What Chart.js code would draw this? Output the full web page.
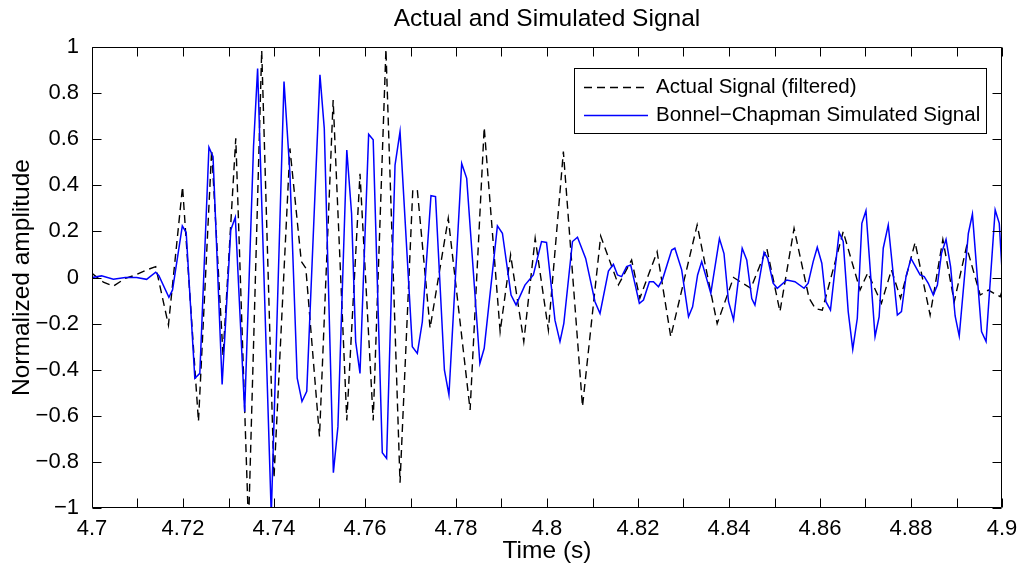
<!DOCTYPE html>
<html><head><meta charset="utf-8">
<script src="https://cdn.jsdelivr.net/npm/chart.js@4/dist/chart.umd.min.js"></script>
<style>html,body{margin:0;padding:0;background:#fff;overflow:hidden}#wrap{width:1021px;height:568px}</style>
</head><body><div id="wrap"><canvas id="c" width="1021" height="568"></canvas></div>
<script>
// ---- data ----
const seriesNames = ['Actual Signal (filtered)', 'Bonnel\u2212Chapman Simulated Signal'];

const actualT = [
  4.7000, 4.7025, 4.7047, 4.7073, 4.7095, 4.7120, 4.7140, 4.7168, 4.7199, 4.7234,
  4.7263, 4.7288, 4.7316, 4.7344, 4.7373, 4.7400, 4.7435, 4.7460, 4.7470, 4.7500,
  4.7530, 4.7560, 4.7589, 4.7618, 4.7646, 4.7677, 4.7705, 4.7715, 4.7743, 4.7783,
  4.7831, 4.7862, 4.7897, 4.7920, 4.7949, 4.7974, 4.8003, 4.8036, 4.8078, 4.8118,
  4.8157, 4.8186, 4.8204, 4.8242, 4.8272, 4.8330, 4.8374, 4.8410, 4.8448, 4.8483,
  4.8512, 4.8543, 4.8576, 4.8590, 4.8605, 4.8651, 4.8688, 4.8705, 4.8735, 4.8757,
  4.8777, 4.8809, 4.8842, 4.8870, 4.8895, 4.8922, 4.8952, 4.8970, 4.8996, 4.9000
];
const actualY = [
  0.018, -0.020, -0.037, -0.004, 0.010, 0.033, 0.047, -0.206, 0.394, -0.625,
  0.553, -0.340, 0.604, -1.080, 0.985, -0.870, 0.560, 0.070, 0.040, -0.690,
  0.770, -0.620, 0.450, -0.620, 0.990, -0.890, 0.380, 0.380, -0.220, 0.257,
  -0.575, 0.651, -0.235, 0.098, -0.278, 0.170, -0.228, 0.546, -0.560, 0.180,
  -0.032, 0.076, -0.090, 0.112, -0.257, 0.228, -0.200, 0.000, -0.047, 0.127,
  -0.148, 0.213, -0.090, -0.135, -0.142, 0.199, -0.054, 0.020, -0.112, 0.033,
  -0.090, 0.152, -0.163, 0.165, -0.105, 0.134, -0.076, -0.055, -0.083, -0.060
];

const simT = [
  4.70000, 4.70210, 4.70470, 4.70730, 4.70980, 4.71200, 4.71400, 4.71470, 4.71690, 4.71770,
  4.71985, 4.72070, 4.72260, 4.72370, 4.72570, 4.72660, 4.72860, 4.73050, 4.73150, 4.73355,
  4.73550, 4.73640, 4.73940, 4.74220, 4.74350, 4.74510, 4.74615, 4.74720, 4.75010, 4.75105,
  4.75305, 4.75405, 4.75600, 4.75705, 4.75795, 4.75890, 4.76080, 4.76180, 4.76380, 4.76475,
  4.76660, 4.76770, 4.77040, 4.77150, 4.77260, 4.77450, 4.77550, 4.77745, 4.77845, 4.78125,
  4.78235, 4.78525, 4.78620, 4.78910, 4.79020, 4.79210, 4.79320, 4.79515, 4.79700, 4.79880,
  4.79990, 4.80175, 4.80285, 4.80370, 4.80560, 4.80670, 4.80850, 4.81055, 4.81165, 4.81350,
  4.81460, 4.81550, 4.81640, 4.81750, 4.81840, 4.82030, 4.82120, 4.82250, 4.82340, 4.82450,
  4.82540, 4.82740, 4.82810, 4.82960, 4.83110, 4.83200, 4.83310, 4.83400, 4.83600, 4.83790,
  4.83890, 4.83990, 4.84100, 4.84290, 4.84390, 4.84500, 4.84570, 4.84770, 4.84850, 4.84970,
  4.85060, 4.85270, 4.85450, 4.85650, 4.85740, 4.85850, 4.85940, 4.86040, 4.86130, 4.86230,
  4.86420, 4.86510, 4.86620, 4.86720, 4.86820, 4.86920, 4.87010, 4.87210, 4.87300, 4.87390,
  4.87500, 4.87700, 4.87790, 4.87890, 4.88000, 4.88200, 4.88290, 4.88380, 4.88490, 4.88580,
  4.88670, 4.88770, 4.88870, 4.88970, 4.89060, 4.89260, 4.89350, 4.89550, 4.89650, 4.89850,
  4.89940, 4.90000
];
const simY = [
  0.000, 0.007, -0.008, 0.000, 0.000, -0.008, 0.023, 0.008, -0.086, -0.054,
  0.224, 0.195, -0.437, -0.416, 0.565, 0.524, -0.464, 0.206, 0.261, -0.582,
  0.568, 0.907, -1.030, 0.850, 0.452, -0.437, -0.538, -0.494, 0.879, 0.647,
  -0.847, -0.647, 0.553, 0.278, -0.278, -0.416, 0.621, 0.597, -0.760, -0.785,
  0.488, 0.633, -0.300, -0.329, -0.192, 0.355, 0.351, -0.401, -0.509, 0.495,
  0.430, -0.373, -0.307, 0.224, 0.192, -0.076, -0.119, -0.033, 0.011, 0.156,
  0.152, -0.185, -0.278, -0.199, 0.156, 0.175, 0.083, -0.105, -0.156, 0.028,
  0.057, 0.011, 0.004, 0.047, 0.054, -0.112, -0.098, -0.018, -0.018, -0.040,
  -0.008, 0.119, 0.127, 0.033, -0.170, -0.127, 0.011, 0.069, -0.069, 0.169,
  0.104, -0.105, -0.184, 0.127, 0.076, -0.091, -0.120, 0.109, 0.083, -0.025,
  -0.047, -0.011, -0.018, -0.047, -0.025, 0.069, 0.131, 0.062, -0.105, -0.141,
  0.195, 0.156, -0.148, -0.312, -0.177, 0.235, 0.290, -0.256, -0.170, 0.127,
  0.228, -0.163, -0.148, 0.004, 0.083, 0.011, 0.004, -0.025, -0.076, -0.033,
  0.105, 0.165, 0.047, -0.167, -0.254, 0.191, 0.275, -0.235, -0.278, 0.293,
  0.235, 0.033
];

const xTickLabels = ['4.7','4.72','4.74','4.76','4.78','4.8','4.82','4.84','4.86','4.88','4.9'];
const yTickLabels = ['\u22121','\u22120.8','\u22120.6','\u22120.4','\u22120.2','0','0.2','0.4','0.6','0.8','1'];

// ---- chart ----
const FONT = "'Liberation Sans', Arial, Helvetica, sans-serif";
const seriesStyle = [
  {color: '#000000', width: 1.4, dash: [8, 5]},
  {color: '#0000ff', width: 1.5, dash: []}
];

const matlabBox = {
  id: 'matlabBox',
  afterDraw(chart) {
    const {ctx, chartArea: a, scales: {x, y}} = chart;
    ctx.save();
    ctx.strokeStyle = '#000';
    ctx.lineWidth = 1;
    const L = Math.round(a.left) + 0.5, R = Math.round(a.right) - 0.5;
    const T = Math.round(a.top) + 0.5, B = Math.round(a.bottom) - 0.5;
    const tl = 9;
    ctx.beginPath();
    ctx.rect(L, T, R - L, B - T);
    x.ticks.forEach(t => {
      const p = Math.round(x.getPixelForValue(t.value)) + 0.5;
      ctx.moveTo(p, B); ctx.lineTo(p, B - tl);
      ctx.moveTo(p, T); ctx.lineTo(p, T + tl);
    });
    y.ticks.forEach(t => {
      const p = Math.round(y.getPixelForValue(t.value)) + 0.5;
      ctx.moveTo(L, p); ctx.lineTo(L + tl, p);
      ctx.moveTo(R, p); ctx.lineTo(R - tl, p);
    });
    ctx.stroke();

    // legend box inside the axes (north-east)
    const bw = 412, bh = 65;
    const bx = Math.round(a.right) - 16 - bw, by = Math.round(a.top) + 21;
    ctx.fillStyle = '#fff';
    ctx.fillRect(bx, by, bw, bh);
    ctx.strokeStyle = '#000';
    ctx.lineWidth = 1;
    ctx.strokeRect(bx + 0.5, by + 0.5, bw, bh);
    const rows = [by + 19, by + 47];
    ctx.font = '20.5px ' + FONT;
    ctx.textBaseline = 'middle';
    ctx.textAlign = 'left';
    seriesNames.forEach((name, i) => {
      const s = seriesStyle[i];
      ctx.beginPath();
      ctx.setLineDash(s.dash);
      ctx.strokeStyle = s.color;
      ctx.lineWidth = s.width;
      ctx.moveTo(bx + 10, rows[i] + 0.5);
      ctx.lineTo(bx + 74, rows[i] + 0.5);
      ctx.stroke();
      ctx.setLineDash([]);
      ctx.fillStyle = '#000';
      ctx.fillText(name, bx + 82, rows[i]);
    });
    ctx.restore();
  }
};

const toPts = (ts, ys) => ts.map((t, i) => ({x: t, y: ys[i]}));

new Chart(document.getElementById('c'), {
  type: 'line',
  data: {
    datasets: [
      {label: seriesNames[0], data: toPts(actualT, actualY), borderColor: seriesStyle[0].color,
       borderWidth: seriesStyle[0].width, borderDash: seriesStyle[0].dash, pointRadius: 0, tension: 0, fill: false, order: 1},
      {label: seriesNames[1], data: toPts(simT, simY), borderColor: seriesStyle[1].color,
       borderWidth: seriesStyle[1].width, pointRadius: 0, tension: 0, fill: false, order: 0}
    ]
  },
  options: {
    responsive: false,
    animation: false,
    devicePixelRatio: 1,
    layout: {padding: {left: 0, right: 19, top: 0, bottom: 0}},
    plugins: {
      legend: {display: false},
      tooltip: {enabled: false},
      title: {
        display: true, text: 'Actual and Simulated Signal', fullSize: false, color: '#000',
        font: {family: FONT, size: 24.5, weight: 'normal'}, padding: {top: 5, bottom: 12.6}
      }
    },
    scales: {
      x: {
        type: 'linear', min: 4.7, max: 4.9,
        grid: {display: false}, border: {display: false},
        ticks: {
          stepSize: 0.01, autoSkip: false, maxRotation: 0, minRotation: 0, padding: 0,
          color: '#000', font: {family: FONT, size: 22},
          callback: (v, i) => (i % 2 === 0 ? xTickLabels[i / 2] : '')
        },
        title: {display: true, text: 'Time (s)', color: '#000',
                font: {family: FONT, size: 24.5}, padding: {top: 0, bottom: 2}},
        afterFit: s => { s.height = 60; }
      },
      y: {
        type: 'linear', min: -1, max: 1,
        grid: {display: false}, border: {display: false},
        ticks: {
          stepSize: 0.2, padding: 5, color: '#000', font: {family: FONT, size: 22},
          callback: (v, i) => yTickLabels[i]
        },
        title: {display: true, text: 'Normalized amplitude', color: '#000',
                font: {family: FONT, size: 24.5}, padding: {top: 8, bottom: 0}},
        afterFit: s => { s.width = 92; }
      }
    }
  },
  plugins: [matlabBox]
});
</script>
</body></html>
